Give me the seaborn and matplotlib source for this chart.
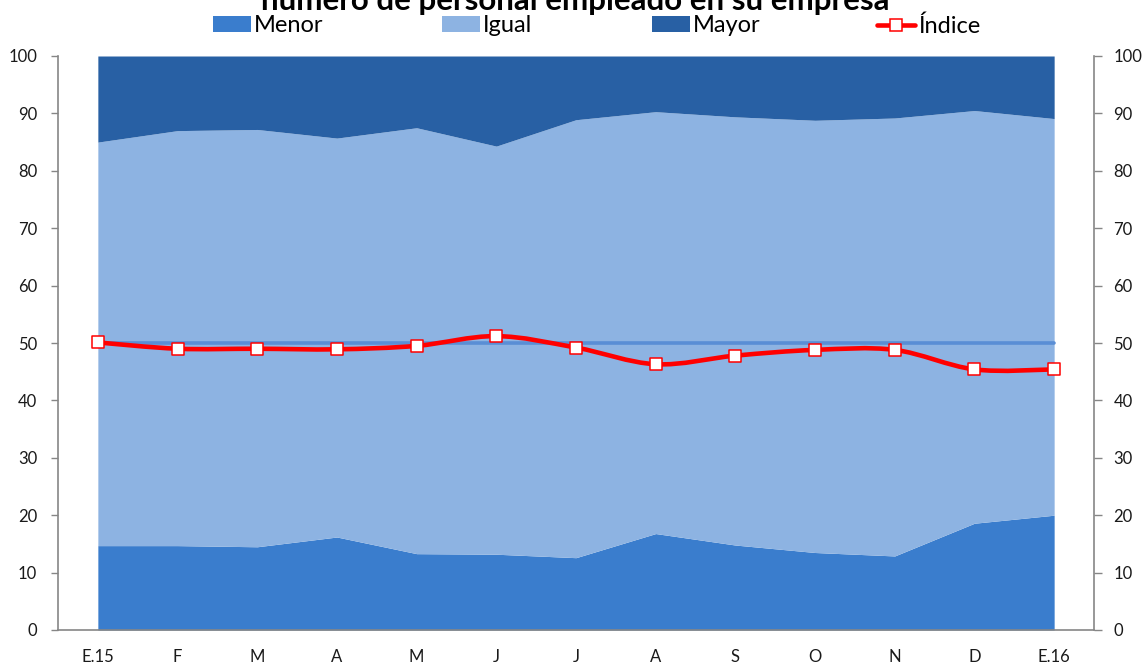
import numpy as np
import pandas as pd
import matplotlib
matplotlib.use("Agg")
import matplotlib.pyplot as plt
import seaborn as sns
from matplotlib.path import Path
from matplotlib.patches import PathPatch, Patch
from matplotlib.lines import Line2D

# ---- data ----
meses = ["E.15", "F", "M", "A", "M", "J", "J", "A", "S", "O", "N", "D", "E.16"]
menor = [14.7, 14.7, 14.5, 16.2, 13.3, 13.2, 12.6, 16.8, 14.8, 13.5, 12.9, 18.6, 20.0]
igual = [70.3, 72.3, 72.7, 69.5, 74.2, 71.1, 76.3, 73.5, 74.6, 75.3, 76.3, 71.9, 69.1]
mayor = [15.0, 13.0, 12.8, 14.3, 12.5, 15.7, 11.1, 9.7, 10.6, 11.2, 10.8, 9.5, 10.9]
indice = [50.1, 49.0, 49.0, 48.9, 49.5, 51.2, 49.2, 46.3, 47.8, 48.8, 48.8, 45.4, 45.4]
referencia = [50] * 13
titulo = "número de personal empleado en su empresa"

c_menor = "#3A7DCD"
c_igual = "#8DB3E2"
c_mayor = "#2860A4"
c_ref = "#5A8ED5"
c_red = "#FF0000"
c_axis = "#868686"
c_text = "#1A1A1A"

sns.set_theme(style="white")
plt.rcParams["font.family"] = ["Lato", "DejaVu Sans"]

df = pd.DataFrame({"x": np.arange(len(meses)), "menor": menor, "igual": igual,
                   "mayor": mayor, "indice": indice, "ref": referencia})
x = df["x"].to_numpy(float)
b1 = df["menor"].to_numpy(float)
b2 = b1 + df["igual"].to_numpy(float)
b3 = b2 + df["mayor"].to_numpy(float)

W, H = 1144, 664
fig = plt.figure(figsize=(W / 100, H / 100), dpi=100)
ax = fig.add_axes([58 / W, 1 - 630 / H, (1094 - 58) / W, (630 - 56) / H])

ax.fill_between(x, 0, b1, color=c_menor, lw=0, zorder=1)
ax.fill_between(x, b1, b2, color=c_igual, lw=0, zorder=1)
ax.fill_between(x, b2, b3, color=c_mayor, lw=0, zorder=1)

sns.lineplot(data=df, x="x", y="ref", ax=ax, color=c_ref, lw=2.6, zorder=2,
             solid_capstyle="round", legend=False)

# smoothed index line (Excel-style Catmull-Rom bezier)
pts = np.column_stack([x, df["indice"].to_numpy(float)])
verts = [tuple(pts[0])]
codes = [Path.MOVETO]
n = len(pts)
for i in range(n - 1):
    p0 = pts[i - 1] if i > 0 else pts[i]
    p1 = pts[i]
    p2 = pts[i + 1]
    p3 = pts[i + 2] if i + 2 < n else pts[i + 1]
    c1 = p1 + (p2 - p0) / 6.0
    c2 = p2 - (p3 - p1) / 6.0
    verts += [tuple(c1), tuple(c2), tuple(p2)]
    codes += [Path.CURVE4] * 3
ax.add_patch(PathPatch(Path(verts, codes), fill=False, edgecolor=c_red, lw=3.3,
                       zorder=3, capstyle="round", joinstyle="round"))
sns.scatterplot(data=df, x="x", y="indice", ax=ax, marker="s", s=78,
                color="white", edgecolor=c_red, linewidth=1.1, zorder=4, legend=False)

ax.set_xlim(-0.5, len(meses) - 0.5)
ax.set_ylim(0, 100)
ax.set_xlabel("")
ax.set_ylabel("")

# x axis: labels at centres, tick marks between categories
ax.set_xticks(x)
ax.set_xticklabels(meses)
ax.set_xticks(np.arange(-0.5, len(meses), 1.0), minor=True)
ax.tick_params(axis="x", which="major", length=0, pad=14, labelsize=12, labelcolor=c_text)
ax.tick_params(axis="x", which="minor", length=5, width=1, color=c_axis, direction="out")

yt = np.arange(0, 101, 10)
ax.set_yticks(yt)
ax.tick_params(axis="y", which="major", length=5, width=1, color=c_axis, direction="out",
               pad=10, labelsize=12, labelcolor=c_text)

for s in ["top", "right"]:
    ax.spines[s].set_visible(False)
for s in ["left", "bottom"]:
    ax.spines[s].set_color(c_axis)
    ax.spines[s].set_linewidth(1.2)

ax2 = ax.twinx()
ax2.set_ylim(0, 100)
ax2.set_yticks(yt)
ax2.tick_params(axis="y", length=6, width=1, color=c_axis, direction="out", pad=8,
                labelsize=12, labelcolor=c_text)
for s in ["top", "left", "bottom"]:
    ax2.spines[s].set_visible(False)
ax2.spines["right"].set_color(c_axis)
ax2.spines["right"].set_linewidth(1.2)

# title (partially cut off at the top, as in the reference)
fig.text(575 / W, 1 - 10 / H, titulo, ha="center", va="baseline", fontsize=22.5,
         fontweight="bold", color="black")

# legend entries placed individually
entries = [
    (213, Patch(facecolor=c_menor, edgecolor="none"), "Menor"),
    (442, Patch(facecolor=c_igual, edgecolor="none"), "Igual"),
    (652, Patch(facecolor=c_mayor, edgecolor="none"), "Mayor"),
    (877, Line2D([], [], color=c_red, lw=3.3, marker="s", markersize=8,
                 markerfacecolor="white", markeredgecolor=c_red, markeredgewidth=1.1), "Índice"),
]
for xpos, h, lab in entries:
    fig.legend([h], [lab], loc="center left", bbox_to_anchor=(xpos / W, 1 - 26 / H),
               frameon=False, fontsize=17, handlelength=1.6, handleheight=0.68,
               handletextpad=0.15, borderpad=0, borderaxespad=0, labelcolor="black")

fig.savefig("out.png", dpi=100)
